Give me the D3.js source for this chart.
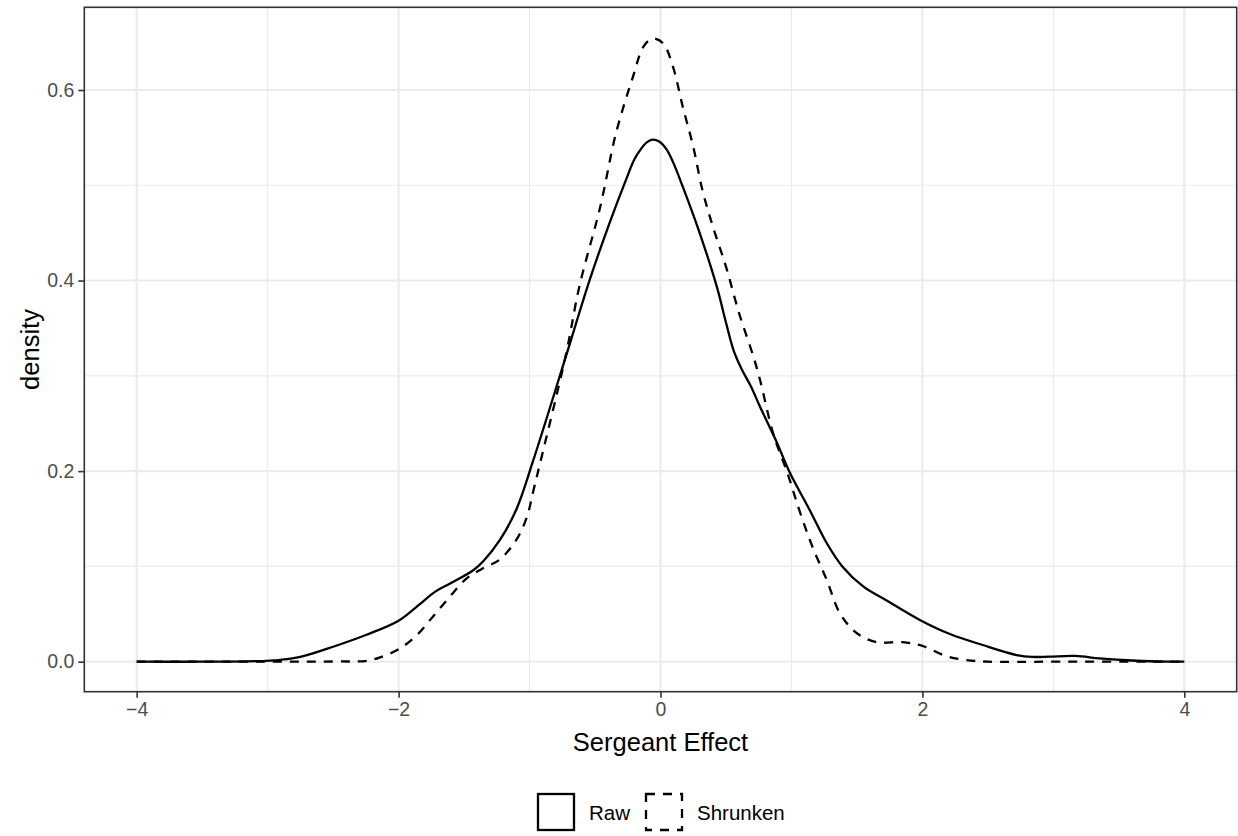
<!DOCTYPE html>
<html>
<head>
<meta charset="utf-8">
<script src="https://cdn.jsdelivr.net/npm/d3@7"></script>
<style>
  html, body { margin: 0; padding: 0; background: #fff; }
  svg { display: block; font-family: "Liberation Sans", Arial, sans-serif; }
</style>
</head>
<body>
<svg id="chart" width="1238" height="836"></svg>
<script>
// Kernel density of sergeant effects: raw estimates vs. shrunken estimates
const rawX = [-4, -3.5, -3.1, -2.9, -2.75, -2.5, -2.25, -2.0, -1.85, -1.72, -1.6, -1.43, -1.35, -1.23, -1.1, -0.97,
  -0.73, -0.54, -0.39, -0.26, -0.20, -0.15, -0.10, -0.06, -0.01, 0.045, 0.10, 0.17, 0.30, 0.43, 0.50, 0.56, 0.62, 0.69, 0.76, 0.88, 0.99,
  1.14, 1.27, 1.39, 1.55, 1.72, 1.98, 2.21, 2.46, 2.72, 2.84, 2.97, 3.17, 3.35, 3.56, 3.8, 4];
const rawY = [0, 0, 0.0005, 0.002, 0.005, 0.0157, 0.028, 0.043, 0.059, 0.0735, 0.0825, 0.096, 0.106, 0.127, 0.160, 0.212,
  0.317, 0.401, 0.460, 0.507, 0.527, 0.538, 0.5455, 0.548, 0.546, 0.538, 0.523, 0.4985, 0.4496, 0.3936, 0.356, 0.326, 0.307, 0.289, 0.2676, 0.2327, 0.1977,
  0.159, 0.1243, 0.0997, 0.0787, 0.0648, 0.0438, 0.029, 0.0175, 0.007, 0.005, 0.0053, 0.006, 0.0035, 0.0015, 0.0002, 0];

const shrunkX = [-4, -3.0, -2.5, -2.24, -2.14, -2.0, -1.86, -1.74, -1.61, -1.48, -1.355, -1.23, -1.10, -1.02, -0.97,
  -0.92, -0.72, -0.62, -0.46, -0.34, -0.21, -0.13, -0.06, 0.02, 0.095, 0.17, 0.25, 0.32, 0.40, 0.50,
  0.60, 0.71, 0.76, 0.86, 0.97, 1.06, 1.16, 1.27, 1.37, 1.50, 1.65, 1.85, 2.0, 2.18, 2.33, 2.5, 3, 4];
const shrunkY = [0, 0, 0.0002, 0.001, 0.0046, 0.013, 0.028, 0.047, 0.068, 0.0875, 0.098, 0.107, 0.128, 0.152, 0.180,
  0.208, 0.3237, 0.3936, 0.4775, 0.5546, 0.614, 0.6455, 0.654, 0.649, 0.6245, 0.5825, 0.5405, 0.495, 0.4566, 0.4146,
  0.3657, 0.320, 0.2957, 0.2397, 0.1977, 0.159, 0.1207, 0.0857, 0.0508, 0.0298, 0.0205, 0.0205, 0.0165, 0.006, 0.0018, 0, 0, 0];

const seriesNames = ["Raw", "Shrunken"];
const xMajor = [-4, -2, 0, 2, 4];
const xMinor = [-3, -1, 1, 3];
const yMajor = [0, 0.2, 0.4, 0.6];
const yMinor = [0.1, 0.3, 0.5];
const xTitle = "Sergeant Effect";
const yTitle = "density";

const svg = d3.select("#chart");
const panel = { left: 84.3, right: 1236.7, top: 7.3, bottom: 691.7 };

const x = d3.scaleLinear().domain([-4.4, 4.4]).range([panel.left, panel.right]);
const y = d3.scaleLinear().domain([-0.0315, 0.6868]).range([panel.bottom, panel.top]);

const dashes = { Raw: null, Shrunken: "9,8" };
const series = [
  { name: "Raw", pts: rawX.map((v, i) => [v, rawY[i]]) },
  { name: "Shrunken", pts: shrunkX.map((v, i) => [v, shrunkY[i]]) }
];

// panel background and grid
const g = svg.append("g");
g.append("rect").attr("x", panel.left).attr("y", panel.top)
  .attr("width", panel.right - panel.left).attr("height", panel.bottom - panel.top)
  .attr("fill", "#fff");

g.selectAll(".gx-minor").data(xMinor).join("line")
  .attr("x1", d => x(d)).attr("x2", d => x(d)).attr("y1", panel.top).attr("y2", panel.bottom)
  .attr("stroke", "#EBEBEB").attr("stroke-width", 1.1);
g.selectAll(".gy-minor").data(yMinor).join("line")
  .attr("y1", d => y(d)).attr("y2", d => y(d)).attr("x1", panel.left).attr("x2", panel.right)
  .attr("stroke", "#EBEBEB").attr("stroke-width", 1.1);
g.selectAll(".gx-major").data(xMajor).join("line")
  .attr("x1", d => x(d)).attr("x2", d => x(d)).attr("y1", panel.top).attr("y2", panel.bottom)
  .attr("stroke", "#EBEBEB").attr("stroke-width", 2.1);
g.selectAll(".gy-major").data(yMajor).join("line")
  .attr("y1", d => y(d)).attr("y2", d => y(d)).attr("x1", panel.left).attr("x2", panel.right)
  .attr("stroke", "#EBEBEB").attr("stroke-width", 2.1);

// density curves
const line = d3.line().x(d => x(d[0])).y(d => y(Math.max(0, d[1]))).curve(d3.curveCatmullRom.alpha(0.5));
svg.append("g").selectAll("path").data(series).join("path")
  .attr("d", d => line(d.pts))
  .attr("fill", "none")
  .attr("stroke", "#000")
  .attr("stroke-width", 2.3)
  .attr("stroke-linejoin", "round")
  .attr("stroke-dasharray", d => dashes[d.name]);

// panel border
svg.append("rect").attr("x", panel.left).attr("y", panel.top)
  .attr("width", panel.right - panel.left).attr("height", panel.bottom - panel.top)
  .attr("fill", "none").attr("stroke", "#333333").attr("stroke-width", 1.6);

// axes
const fmtX = d => d < 0 ? "\u2212" + Math.abs(d) : String(d);
const xAxis = svg.append("g").attr("transform", `translate(0,${panel.bottom})`)
  .call(d3.axisBottom(x).tickValues(xMajor).tickFormat(fmtX).tickSize(6).tickPadding(4));
const yAxis = svg.append("g").attr("transform", `translate(${panel.left},0)`)
  .call(d3.axisLeft(y).tickValues(yMajor).tickFormat(d3.format(".1f")).tickSize(6).tickPadding(4));
[xAxis, yAxis].forEach(a => {
  a.select(".domain").remove();
  a.selectAll(".tick line").attr("stroke", "#333333").attr("stroke-width", 1.6);
  a.selectAll(".tick text").attr("fill", "#4D4D4D").style("font-size", "19.5px")
    .style("font-family", "Liberation Sans, Arial, sans-serif");
});

// axis titles
svg.append("text").attr("x", (panel.left + panel.right) / 2).attr("y", 751)
  .attr("text-anchor", "middle").attr("fill", "#000").style("font-size", "25.5px").text(xTitle);
svg.append("text").attr("transform", `translate(39,${(panel.top + panel.bottom) / 2}) rotate(-90)`)
  .attr("text-anchor", "middle").attr("fill", "#000").style("font-size", "25.5px").text(yTitle);

// legend
const legend = svg.append("g");
const keySize = 36;
const keyX = [538, 646];
seriesNames.forEach((name, i) => {
  legend.append("rect").attr("x", keyX[i]).attr("y", 794)
    .attr("width", keySize).attr("height", keySize)
    .attr("fill", "#fff").attr("stroke", "#000").attr("stroke-width", 2.3)
    .attr("stroke-dasharray", dashes[name]);
  legend.append("text").attr("x", keyX[i] + keySize + 15).attr("y", 820)
    .attr("fill", "#000").style("font-size", "20.5px").text(name);
});
</script>
</body>
</html>
